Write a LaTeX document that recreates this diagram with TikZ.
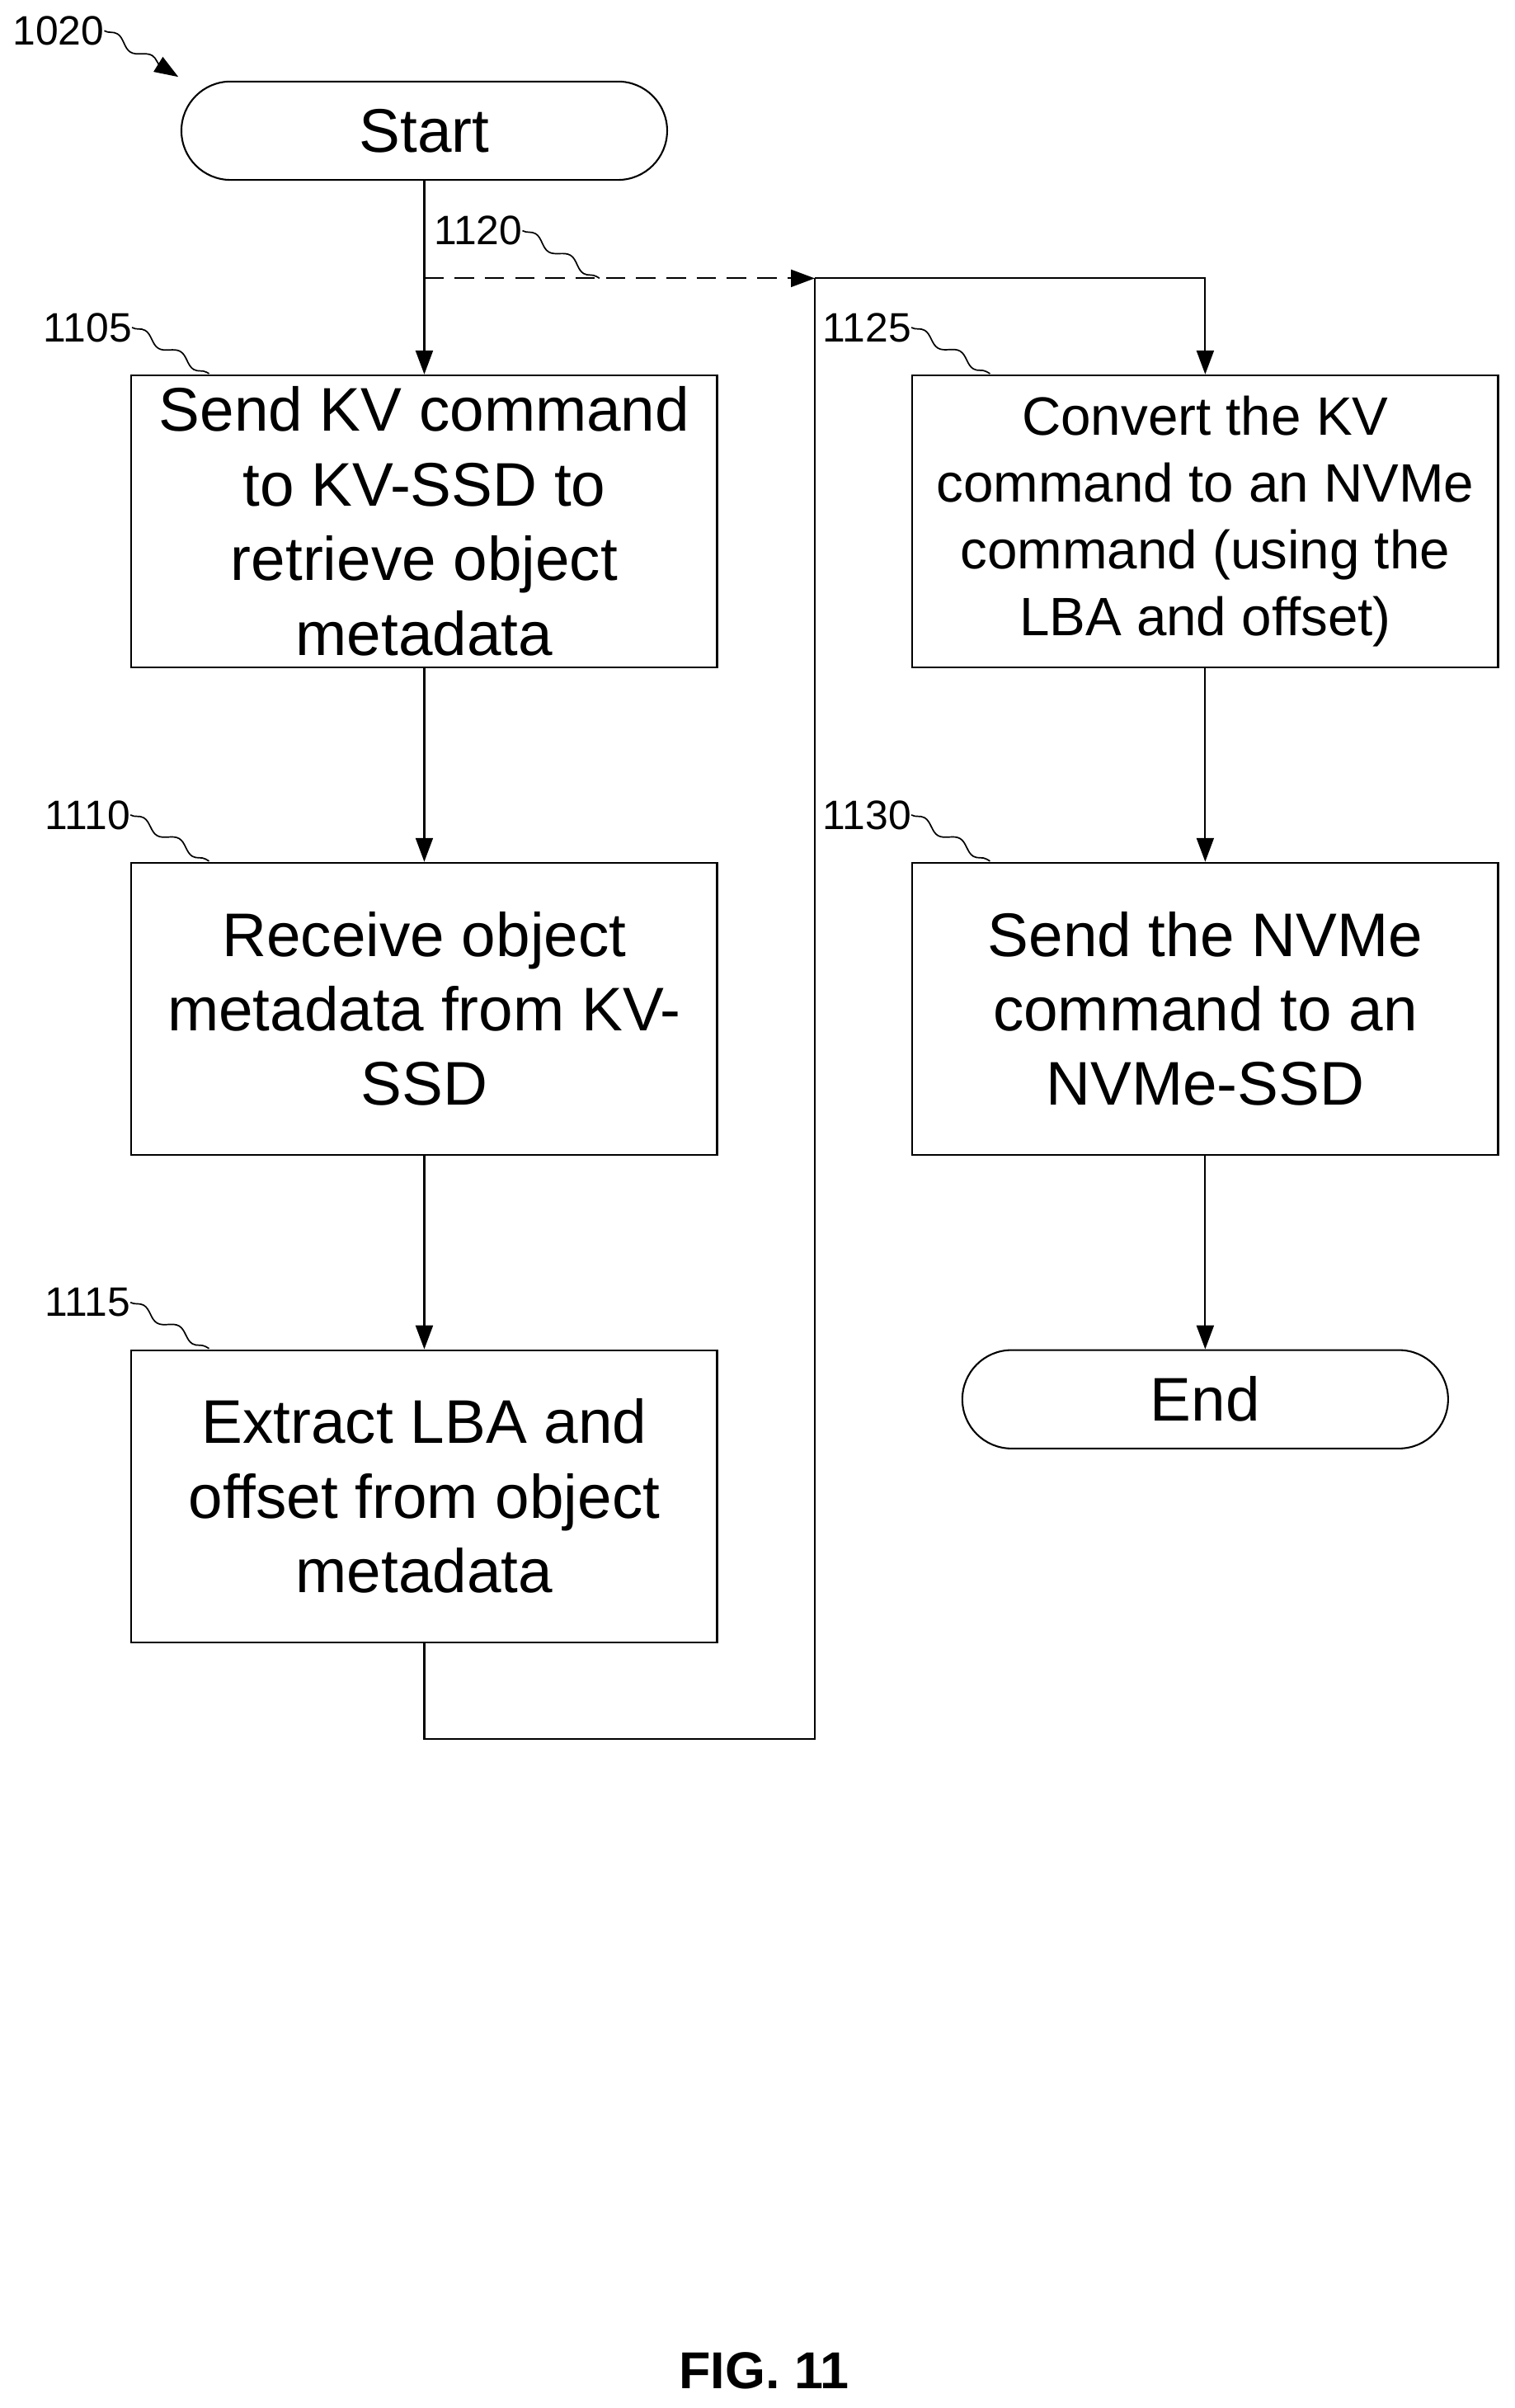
\documentclass[tikz,border=0pt]{standalone}
\usepackage{fontspec}
\setmainfont{Liberation Sans}
\usetikzlibrary{arrows.meta,decorations.pathmorphing}
\begin{document}
\begin{tikzpicture}[x=0.05cm,y=-0.05cm,
  box/.style={draw,line width=1.6pt,minimum width=19.05cm,minimum height=9.5cm,align=center,inner sep=0pt,font=\fontsize{57}{69}\selectfont},
  pill/.style={draw,line width=1.6pt,rounded corners=1.6cm,minimum width=15.8cm,minimum height=3.2cm,font=\fontsize{57}{66}\selectfont},
  lab/.style={font=\fontsize{38}{44}\selectfont,inner sep=0pt},
  ln/.style={line width=1.6pt},
  arr/.style={ln,-{Triangle[length=22pt,width=16pt]}},
  sq/.style={line width=1.3pt,decorate,decoration={snake,segment length=38,amplitude=4}}]
\useasboundingbox (0,0) rectangle (985,1566);
\node[pill] (start) at (276,85) {Start};
\node[box] (b1105) at (276,339) {Send KV command\\to KV-SSD to\\retrieve object\\metadata};
\node[box,font=\fontsize{50}{62}\selectfont] (b1125) at (784,339) {Convert the KV\\command to an NVMe\\command (using the\\LBA and offset)};
\node[box] (b1110) at (276,656) {Receive object\\metadata from KV-\\SSD};
\node[box] (b1115) at (276,973) {Extract LBA and\\offset from object\\metadata};
\node[box] (b1130) at (784,656) {Send the NVMe\\command to an\\NVMe-SSD};
\node[pill] (end) at (784,910) {End};
\node[font=\fontsize{48}{54}\selectfont\bfseries] (fig) at (497,1542) {FIG. 11};
\coordinate (j) at (276,181);
\coordinate (m) at (530,181);
\coordinate (r) at (784,181);
\draw[arr] (start) -- (b1105);
\draw[ln,dashed,dash pattern=on 18pt off 10pt,-{Triangle[length=22pt,width=16pt]}] (j) -- (m);
\draw[arr] (m) -- (r) -- (b1125);
\draw[arr] (b1105) -- (b1110);
\draw[arr] (b1110) -- (b1115);
\draw[ln] (b1115.south) -- (276,1131) -- (530,1131) -- (m);
\draw[arr] (b1125) -- (b1130);
\draw[arr] (b1130) -- (end);
\node[lab] (l1020) at (38,20) {1020};
\node[lab] (l1120) at (311,150) {1120};
\node[lab] (l1105) at (57,213) {1105};
\node[lab] (l1110) at (57,530) {1110};
\node[lab] (l1115) at (57,847) {1115};
\node[lab] (l1125) at (564,213) {1125};
\node[lab] (l1130) at (564,530) {1130};
\draw[sq,-{Triangle[length=22pt,width=16pt]}] (l1020.east) -- (116,50);
\draw[sq] (l1120.east) -- (390,181);
\draw[sq] (l1105.east) -- (136,243);
\draw[sq] (l1110.east) -- (136,560);
\draw[sq] (l1115.east) -- (136,877);
\draw[sq] (l1125.east) -- (644,243);
\draw[sq] (l1130.east) -- (644,560);
\end{tikzpicture}
\end{document}
